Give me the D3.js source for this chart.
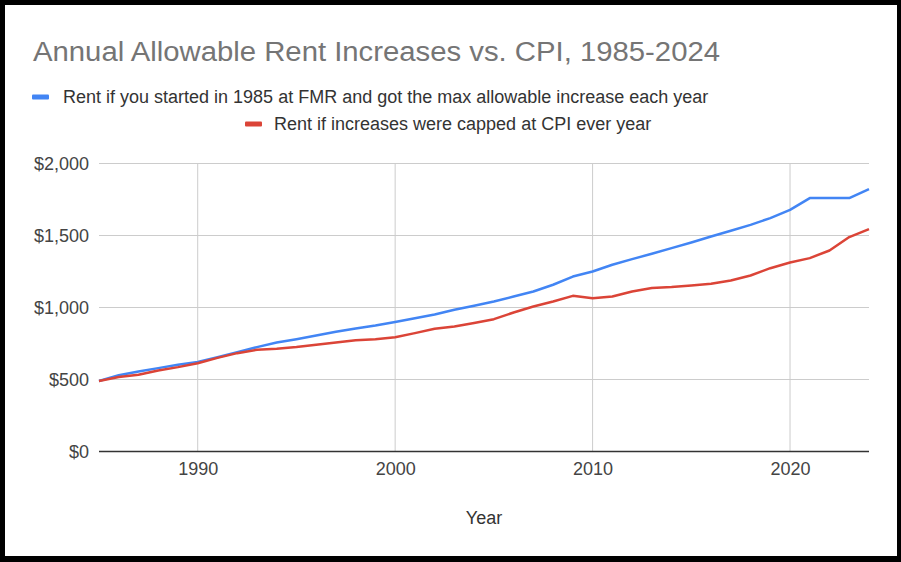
<!DOCTYPE html>
<html><head><meta charset="utf-8">
<script src="https://cdn.jsdelivr.net/npm/d3@7"></script>
<style>html,body{margin:0;padding:0;background:#fff}svg{display:block}</style>
</head><body>
<script>
const years = d3.range(1985, 2025);
const maxAllowable = [490,530,556,579,602,622,655,690,725,757,780,806,831,854,875,900,926,951,984,1012,1042,1076,1111,1158,1215,1250,1297,1336,1373,1412,1451,1493,1533,1574,1621,1678,1760,1760,1760,1822];
const cpiCapped = [490,517,533,563,586,613,650,683,706,713,725,741,757,773,780,794,822,852,868,892,919,965,1007,1042,1081,1065,1076,1111,1135,1142,1153,1165,1188,1222,1273,1313,1343,1396,1489,1544];
const yTicks = [0,500,1000,1500,2000];
const xTicks = [1990,2000,2010,2020];
const seriesNames = ["Rent if you started in 1985 at FMR and got the max allowable increase each year","Rent if increases were capped at CPI ever year"];
const colors = ["#4285F4","#DB4437"];
const title = "Annual Allowable Rent Increases vs. CPI, 1985-2024";

const W=901,H=562;
const svg=d3.select("body").append("svg").attr("width",W).attr("height",H);
svg.append("rect").attr("width",W).attr("height",H).attr("fill","#000");
svg.append("rect").attr("x",5).attr("y",5).attr("width",892).attr("height",551).attr("fill","#fff");

const font="Liberation Sans, Arial, sans-serif";
const x=d3.scaleLinear().domain([1985,2024]).range([99,869]);
const y=d3.scaleLinear().domain([0,2000]).range([451.5,163.5]);

// gridlines
svg.append("g").selectAll("line").data(yTicks.filter(d=>d>0)).join("line")
 .attr("x1",99).attr("x2",869).attr("y1",d=>y(d)).attr("y2",d=>y(d))
 .attr("stroke","#ccc").attr("stroke-width",1);
svg.append("g").selectAll("line").data(xTicks).join("line")
 .attr("x1",d=>x(d)).attr("x2",d=>x(d)).attr("y1",y(2000)).attr("y2",y(0))
 .attr("stroke","#ccc").attr("stroke-width",1);

// y axis labels
const yAxis=svg.append("g").attr("transform","translate(89,0)")
 .call(d3.axisLeft(y).tickValues(yTicks).tickSize(0).tickPadding(0).tickFormat(d=>"$"+d3.format(",")(d)));
yAxis.select(".domain").remove();
yAxis.selectAll("text").attr("font-family",font).attr("font-size",18).attr("fill","#444");

// x axis labels
const xAxis=svg.append("g").attr("transform","translate(0,"+y(0)+")")
 .call(d3.axisBottom(x).tickValues(xTicks).tickSize(0).tickPadding(11).tickFormat(d3.format("d")));
xAxis.select(".domain").remove();
xAxis.selectAll("text").attr("font-family",font).attr("font-size",18).attr("fill","#444");

// baseline
svg.append("line").attr("x1",99).attr("x2",869).attr("y1",y(0)).attr("y2",y(0))
 .attr("stroke","#333").attr("stroke-width",1.5);

// lines
const line=d3.line().x((d,i)=>x(years[i])).y(d=>y(d));
[maxAllowable,cpiCapped].forEach((s,i)=>{
 svg.append("path").datum(s).attr("d",line).attr("fill","none")
  .attr("stroke",colors[i]).attr("stroke-width",2.5).attr("stroke-linejoin","round");
});

// title
svg.append("text").attr("x",33).attr("y",61).text(title)
 .attr("font-family",font).attr("font-size",27).attr("fill","#757575")
 .attr("textLength",687).attr("lengthAdjust","spacingAndGlyphs");

// legend
const leg=[{sx:32,tx:63,yy:97},{sx:245,tx:274,yy:124}];
leg.forEach((l,i)=>{
 svg.append("rect").attr("x",l.sx).attr("y",l.yy-2.5).attr("width",17).attr("height",5).attr("rx",1).attr("fill",colors[i]);
 svg.append("text").attr("x",l.tx).attr("y",l.yy+6).text(seriesNames[i])
  .attr("font-family",font).attr("font-size",18).attr("fill","#333");
});

// x axis title
svg.append("text").attr("x",484).attr("y",524).attr("text-anchor","middle").text("Year")
 .attr("font-family",font).attr("font-size",18).attr("fill","#333");
</script>
</body></html>
